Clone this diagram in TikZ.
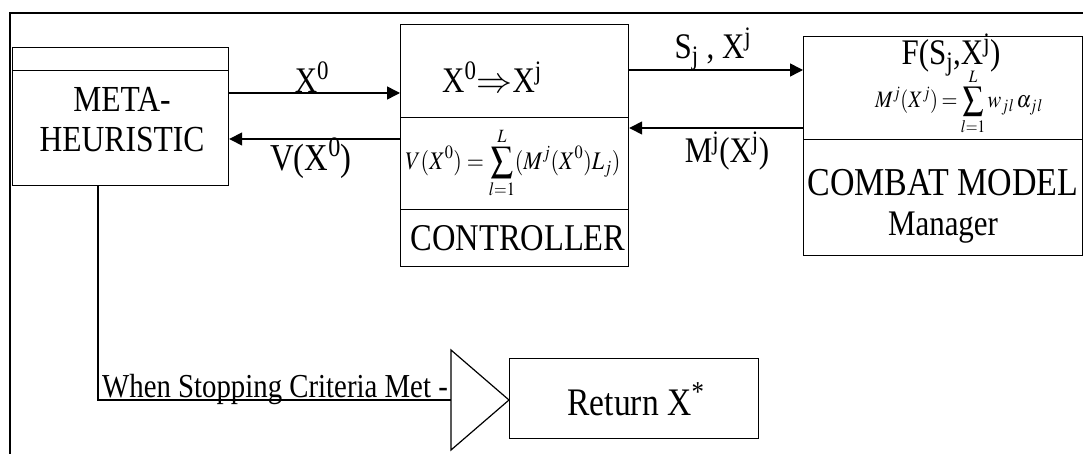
\documentclass[tikz,border=0pt]{standalone}
\usepackage{graphicx}
\usepackage{mathptmx}
\usepackage{fontspec}
\setmainfont[FakeStretch=0.86]{Liberation Serif}
\usetikzlibrary{arrows.meta}
\newcommand{\tallmath}[1]{\scalebox{1}[1.15]{#1}}
\newcommand{\fsz}[1]{\fontsize{#1}{40}\selectfont}
\begin{document}
\begin{tikzpicture}[x=1pt,y=-1pt,
  box/.style={draw, line width=1.2pt, inner sep=0pt, anchor=north west},
  frameline/.style={line width=2.5pt},
  conn/.style={line width=1.5pt},
  arr/.style={line width=1.5pt, -{Triangle[length=13pt,width=13pt]}},
  lbl/.style={font=\fontsize{36}{40}\selectfont, inner sep=0pt, align=center},
  lblsmall/.style={font=\fontsize{33.5}{36}\selectfont, inner sep=0pt},
  fm/.style={font=\fontsize{22}{26}\selectfont, inner sep=0pt},
  fmb/.style={font=\fontsize{20.5}{24}\selectfont, inner sep=0pt}]
\useasboundingbox (0,0) rectangle (1083,454);
% outer frame
\draw[frameline] (10,454) -- (10,13) -- (1083,13);
% meta-heuristic
\node[box, minimum width=216, minimum height=23] (metatop) at (12,47) {};
\node[box, minimum width=216, minimum height=115] (meta) at (12,70) {};
\node[lbl, font=\fsz{36.7}] (metatext) at (122,120) {META-\\HEURISTIC};
% controller
\node[box, minimum width=228, minimum height=93] (ctrlA) at (400,24) {};
\node[box, minimum width=228, minimum height=92] (ctrlB) at (400,117) {};
\node[box, minimum width=228, minimum height=57] (ctrlC) at (400,209) {};
\node[lbl] (xmap) at (492,77) {X\textsuperscript{0}$\Rightarrow$X\textsuperscript{j}};
\node[fm] (vform) at (513,163) {\tallmath{$\displaystyle V(X^0)=\sum_{l=1}^{L}(M^j(X^0)L_j)$}};
\node[lbl, font=\fsz{37.8}] (ctrltext) at (518,238) {CONTROLLER};
% combat model
\node[box, minimum width=279, minimum height=103] (cmA) at (803,36) {};
\node[box, minimum width=279, minimum height=116] (cmB) at (803,139) {};
\node[lbl] (ftext) at (951,55) {F(S\textsubscript{j},X\textsuperscript{j})};
\node[fmb] (mform) at (959,102) {\tallmath{$\displaystyle \thickmuskip=3mu M^j(X^j)=\sum_{l=1}^{L} w_{j\mkern1mu l}\,\alpha_{j\mkern1mu l}$}};
\node[lbl] (cmtext) at (943,206) {{\fsz{39.5}COMBAT MODEL}\\Manager};
% return
\node[box, minimum width=249, minimum height=80] (ret) at (509,358) {};
\node[lbl, font=\fsz{39}] (rettext) at (636,399) {Return X\textsuperscript{*}};
% rows
\coordinate (rA) at (0,93);
\coordinate (rB) at (0,139);
\coordinate (rC) at (0,70);
\coordinate (rD) at (0,128);
% connectors
\draw[arr] (meta.east |- rA) -- (ctrlA.west |- rA);
\draw[arr] (ctrlB.west |- rB) -- (meta.east |- rB);
\draw[arr] (ctrlA.east |- rC) -- (cmA.west |- rC);
\draw[arr] (cmA.west |- rD) -- (ctrlB.east |- rD);
\node[lbl] (lx0) at (312,77) {X\textsuperscript{0}};
\node[lbl, font=\fsz{38}] (lvx0) at (311,158) {V(X\textsuperscript{0})};
\node[lbl] (lsx) at (713,49) {S\textsubscript{j} , X\textsuperscript{j}};
\node[lbl] (lmx) at (727,151) {M\textsuperscript{j}(X\textsuperscript{j})};
% stopping branch
\coordinate (stopx) at (98,400);
\coordinate (triw) at (451,400);
\coordinate (tria) at (509,400);
\draw[conn] (meta.south -| stopx) -- (stopx) -- (triw);
\draw[line width=1.2pt, line join=miter] (451,350) -- (tria) -- (451,450) -- cycle;
\node[lblsmall, anchor=base east] (stoptext) at (448,397) {When Stopping Criteria Met -};
\end{tikzpicture}
\end{document}
